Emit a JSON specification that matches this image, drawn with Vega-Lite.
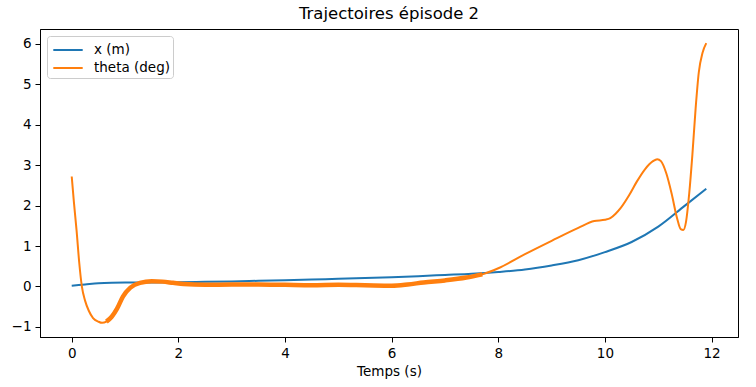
{
  "$schema": "https://vega.github.io/schema/vega-lite/v6.json",
  "width": 698,
  "height": 308,
  "autosize": {"type": "none"},
  "padding": {"left": 40, "top": 29, "right": 18, "bottom": 50},
  "background": "white",
  "config": {
    "font": "DejaVu Sans",
    "view": {"stroke": "black", "strokeWidth": 1},
    "axis": {"grid": false, "domainColor": "black", "tickColor": "black", "labelColor": "black", "titleColor": "black", "labelFontSize": 13.5, "titleFontSize": 13.5, "titleFontWeight": "normal", "tickSize": 5, "labelPadding": 4, "labelFont": "DejaVu Sans", "titleFont": "DejaVu Sans"},
    "legend": {"labelFont": "DejaVu Sans"}
  },
  "title": {"text": "Trajectoires épisode 2", "fontSize": 16.5, "fontWeight": "normal", "font": "DejaVu Sans", "color": "black", "anchor": "middle", "offset": 7},
  "data": {"values": [
    {"t": 0, "v": 0.02, "s": "x (m)"},
    {"t": 0.25, "v": 0.05, "s": "x (m)"},
    {"t": 0.5, "v": 0.08, "s": "x (m)"},
    {"t": 0.75, "v": 0.095, "s": "x (m)"},
    {"t": 1, "v": 0.1, "s": "x (m)"},
    {"t": 1.5, "v": 0.1, "s": "x (m)"},
    {"t": 2, "v": 0.105, "s": "x (m)"},
    {"t": 2.5, "v": 0.115, "s": "x (m)"},
    {"t": 3, "v": 0.125, "s": "x (m)"},
    {"t": 3.5, "v": 0.14, "s": "x (m)"},
    {"t": 4, "v": 0.155, "s": "x (m)"},
    {"t": 4.5, "v": 0.17, "s": "x (m)"},
    {"t": 5, "v": 0.19, "s": "x (m)"},
    {"t": 5.5, "v": 0.21, "s": "x (m)"},
    {"t": 6, "v": 0.23, "s": "x (m)"},
    {"t": 6.5, "v": 0.255, "s": "x (m)"},
    {"t": 7, "v": 0.285, "s": "x (m)"},
    {"t": 7.5, "v": 0.315, "s": "x (m)"},
    {"t": 8, "v": 0.36, "s": "x (m)"},
    {"t": 8.5, "v": 0.42, "s": "x (m)"},
    {"t": 9, "v": 0.52, "s": "x (m)"},
    {"t": 9.5, "v": 0.65, "s": "x (m)"},
    {"t": 10, "v": 0.85, "s": "x (m)"},
    {"t": 10.5, "v": 1.1, "s": "x (m)"},
    {"t": 11, "v": 1.48, "s": "x (m)"},
    {"t": 11.5, "v": 2.0, "s": "x (m)"},
    {"t": 11.9, "v": 2.42, "s": "x (m)"},
    {"t": 0, "v": 2.72, "s": "theta (deg)"},
    {"t": 0.04, "v": 2.1, "s": "theta (deg)"},
    {"t": 0.09, "v": 1.4, "s": "theta (deg)"},
    {"t": 0.14, "v": 0.6, "s": "theta (deg)"},
    {"t": 0.19, "v": 0.0, "s": "theta (deg)"},
    {"t": 0.25, "v": -0.35, "s": "theta (deg)"},
    {"t": 0.32, "v": -0.6, "s": "theta (deg)"},
    {"t": 0.4, "v": -0.78, "s": "theta (deg)"},
    {"t": 0.5, "v": -0.87, "s": "theta (deg)"},
    {"t": 0.57, "v": -0.9, "s": "theta (deg)"},
    {"t": 0.65, "v": -0.87, "s": "theta (deg)"},
    {"t": 0.75, "v": -0.75, "s": "theta (deg)"},
    {"t": 0.85, "v": -0.55, "s": "theta (deg)"},
    {"t": 0.96, "v": -0.25, "s": "theta (deg)"},
    {"t": 1.1, "v": -0.03, "s": "theta (deg)"},
    {"t": 1.28, "v": 0.09, "s": "theta (deg)"},
    {"t": 1.5, "v": 0.13, "s": "theta (deg)"},
    {"t": 1.7, "v": 0.12, "s": "theta (deg)"},
    {"t": 1.9, "v": 0.09, "s": "theta (deg)"},
    {"t": 2.1, "v": 0.06, "s": "theta (deg)"},
    {"t": 2.5, "v": 0.04, "s": "theta (deg)"},
    {"t": 3, "v": 0.05, "s": "theta (deg)"},
    {"t": 3.5, "v": 0.05, "s": "theta (deg)"},
    {"t": 4, "v": 0.04, "s": "theta (deg)"},
    {"t": 4.5, "v": 0.03, "s": "theta (deg)"},
    {"t": 5, "v": 0.04, "s": "theta (deg)"},
    {"t": 5.5, "v": 0.03, "s": "theta (deg)"},
    {"t": 6, "v": 0.02, "s": "theta (deg)"},
    {"t": 6.3, "v": 0.05, "s": "theta (deg)"},
    {"t": 6.6, "v": 0.1, "s": "theta (deg)"},
    {"t": 7, "v": 0.15, "s": "theta (deg)"},
    {"t": 7.4, "v": 0.22, "s": "theta (deg)"},
    {"t": 7.7, "v": 0.3, "s": "theta (deg)"},
    {"t": 8, "v": 0.45, "s": "theta (deg)"},
    {"t": 8.5, "v": 0.8, "s": "theta (deg)"},
    {"t": 9, "v": 1.13, "s": "theta (deg)"},
    {"t": 9.5, "v": 1.45, "s": "theta (deg)"},
    {"t": 9.8, "v": 1.62, "s": "theta (deg)"},
    {"t": 10, "v": 1.65, "s": "theta (deg)"},
    {"t": 10.1, "v": 1.69, "s": "theta (deg)"},
    {"t": 10.2, "v": 1.8, "s": "theta (deg)"},
    {"t": 10.3, "v": 1.95, "s": "theta (deg)"},
    {"t": 10.45, "v": 2.25, "s": "theta (deg)"},
    {"t": 10.6, "v": 2.6, "s": "theta (deg)"},
    {"t": 10.75, "v": 2.9, "s": "theta (deg)"},
    {"t": 10.9, "v": 3.1, "s": "theta (deg)"},
    {"t": 10.98, "v": 3.15, "s": "theta (deg)"},
    {"t": 11.05, "v": 3.1, "s": "theta (deg)"},
    {"t": 11.15, "v": 2.8, "s": "theta (deg)"},
    {"t": 11.25, "v": 2.3, "s": "theta (deg)"},
    {"t": 11.35, "v": 1.7, "s": "theta (deg)"},
    {"t": 11.42, "v": 1.42, "s": "theta (deg)"},
    {"t": 11.47, "v": 1.4, "s": "theta (deg)"},
    {"t": 11.52, "v": 1.6, "s": "theta (deg)"},
    {"t": 11.58, "v": 2.3, "s": "theta (deg)"},
    {"t": 11.64, "v": 3.27, "s": "theta (deg)"},
    {"t": 11.7, "v": 4.4, "s": "theta (deg)"},
    {"t": 11.76, "v": 5.3, "s": "theta (deg)"},
    {"t": 11.83, "v": 5.78, "s": "theta (deg)"},
    {"t": 11.9, "v": 6.02, "s": "theta (deg)"}
  ]},
  "encoding": {
    "x": {"field": "t", "type": "quantitative", "title": "Temps (s)", "scale": {"domain": [-0.595, 12.495], "nice": false, "zero": false}, "axis": {"values": [0, 2, 4, 6, 8, 10, 12], "titlePadding": 5}},
    "y": {"field": "v", "type": "quantitative", "title": null, "scale": {"domain": [-1.25, 6.37], "nice": false, "zero": false}, "axis": {"values": [-1, 0, 1, 2, 3, 4, 5, 6]}},
    "color": {"field": "s", "type": "nominal", "scale": {"domain": ["x (m)", "theta (deg)"], "range": ["#1f77b4", "#ff7f0e"]},
      "legend": {"title": null, "orient": "top-left", "offset": 7, "symbolType": "M-0.77,0H2.17", "symbolSize": 400, "symbolStrokeWidth": 2, "labelFontSize": 13.5, "labelColor": "black", "labelOffset": 22, "strokeColor": "#cccccc", "fillColor": "white", "cornerRadius": 3, "padding": 3, "rowPadding": 0}}
  },
  "layer": [
    {"transform": [{"filter": "datum.s == 'x (m)'"}], "mark": {"type": "line", "strokeWidth": 2, "interpolate": "monotone"}},
    {"transform": [{"filter": "datum.s == 'theta (deg)'"}], "mark": {"type": "line", "strokeWidth": 2, "interpolate": "monotone"}},
    {"transform": [{"filter": "datum.s == 'theta (deg)' && datum.t >= 0.6 && datum.t <= 7.8"}], "mark": {"type": "line", "strokeWidth": 4.5, "interpolate": "monotone"}}
  ]
}
